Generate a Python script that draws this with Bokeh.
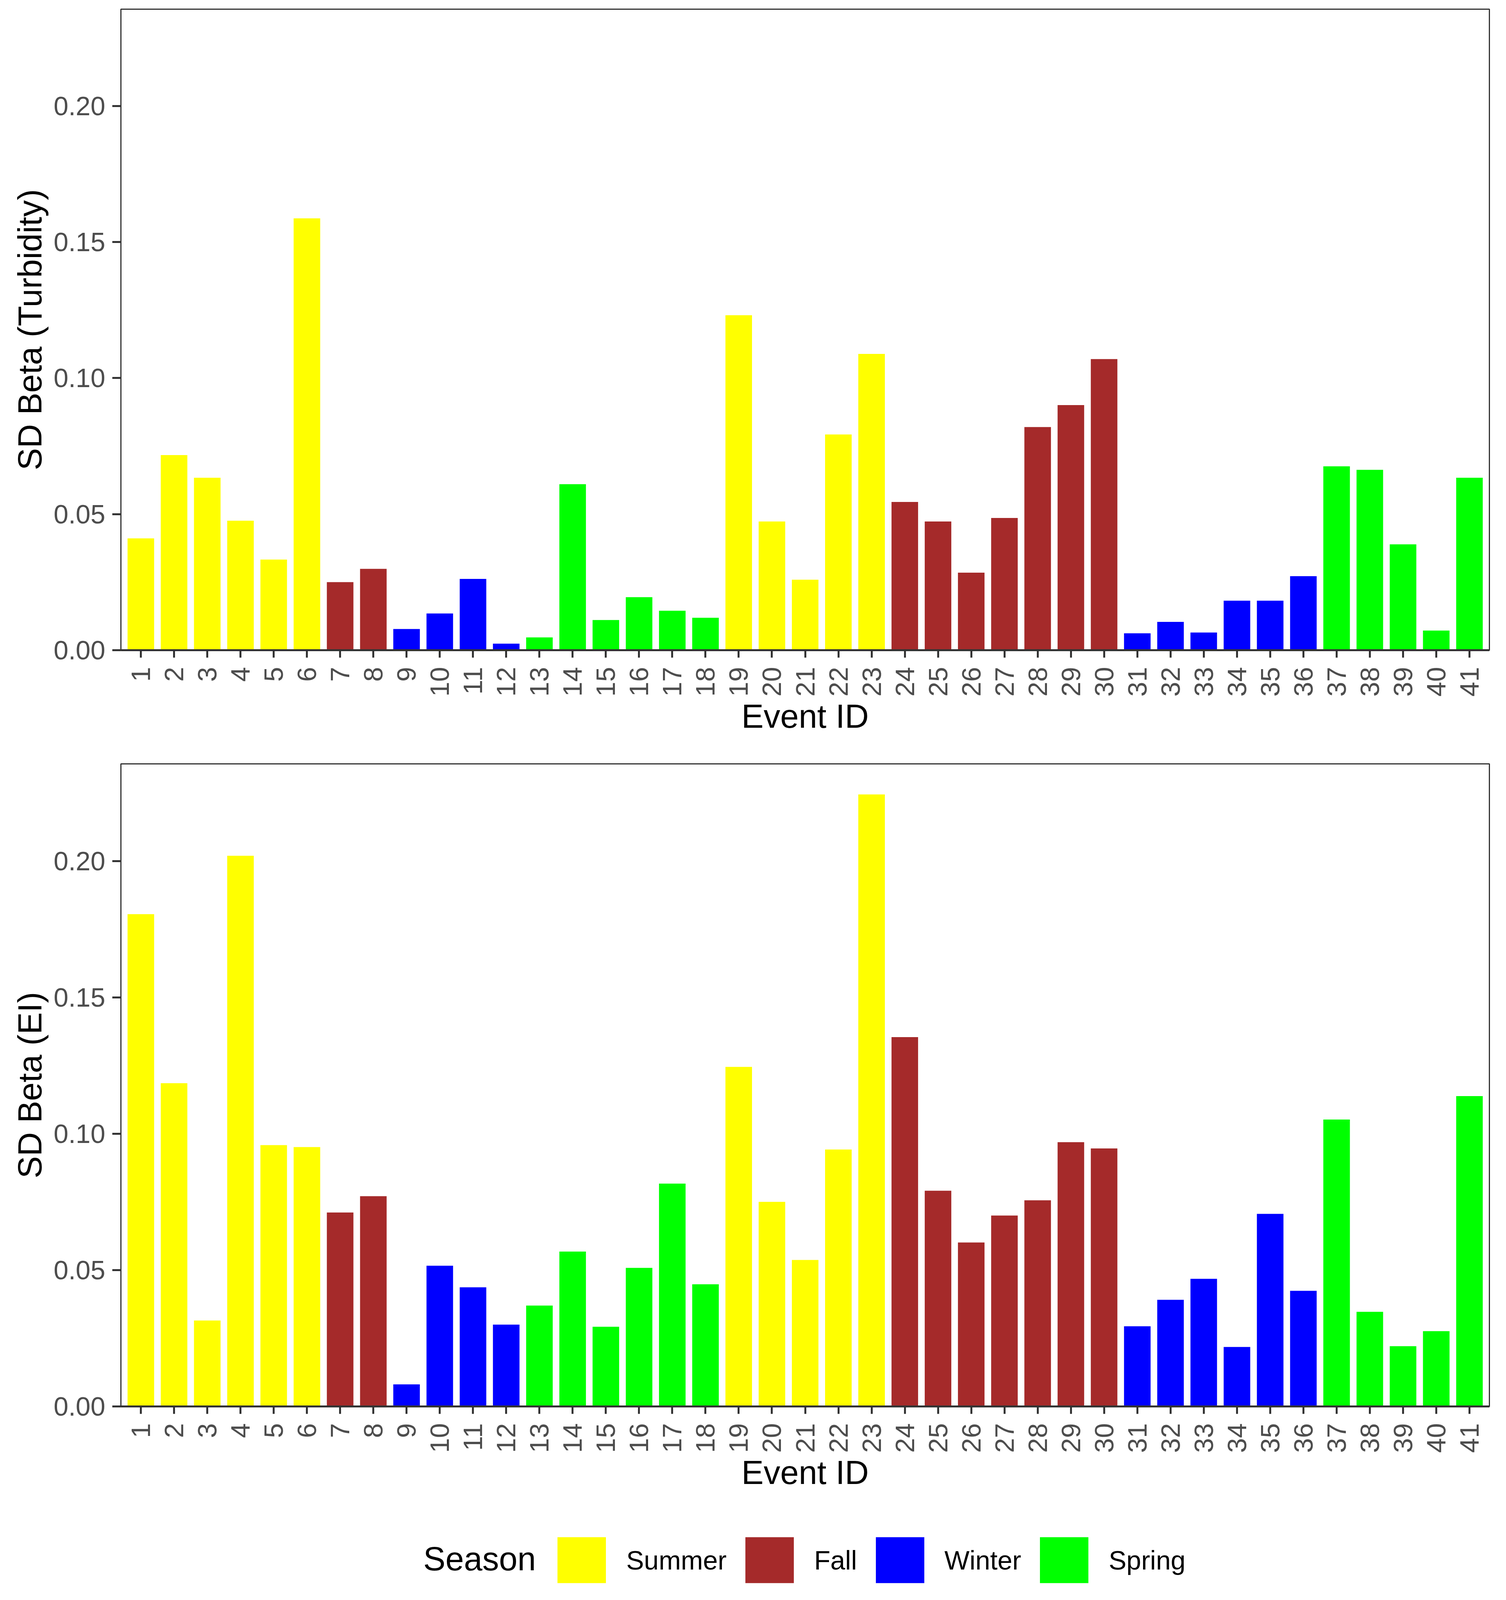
import math
from bokeh.plotting import figure
from bokeh.models import (Range1d, FixedTicker, NumeralTickFormatter, Legend,
                          LegendItem, ColumnDataSource, Label)
from bokeh.layouts import column
from bokeh.embed import file_html
from bokeh.resources import INLINE

# ---------------- data ----------------
event_ids = [1, 2, 3, 4, 5, 6, 7, 8, 9, 10, 11, 12, 13, 14, 15, 16, 17, 18, 19, 20,
             21, 22, 23, 24, 25, 26, 27, 28, 29, 30, 31, 32, 33, 34, 35, 36, 37, 38,
             39, 40, 41]

seasons = (["Summer"] * 6 + ["Fall"] * 2 + ["Winter"] * 4 + ["Spring"] * 6 +
           ["Summer"] * 5 + ["Fall"] * 7 + ["Winter"] * 6 + ["Spring"] * 5)

sd_beta_turbidity = [0.0411, 0.0717, 0.0634, 0.0476, 0.0333, 0.1587, 0.0250, 0.0299,
                     0.0078, 0.0135, 0.0262, 0.0024, 0.0047, 0.0610, 0.0111, 0.0195,
                     0.0145, 0.0119, 0.1231, 0.0473, 0.0259, 0.0793, 0.1089, 0.0545,
                     0.0473, 0.0285, 0.0486, 0.0820, 0.0901, 0.1070, 0.0062, 0.0104,
                     0.0065, 0.0182, 0.0182, 0.0272, 0.0676, 0.0663, 0.0389, 0.0072,
                     0.0634]

sd_beta_ei = [0.1805, 0.1185, 0.0315, 0.2019, 0.0958, 0.0951, 0.0711, 0.0771, 0.0081,
              0.0516, 0.0437, 0.0300, 0.0370, 0.0568, 0.0292, 0.0508, 0.0817, 0.0448,
              0.1245, 0.0750, 0.0537, 0.0942, 0.2244, 0.1354, 0.0791, 0.0601, 0.0700,
              0.0756, 0.0969, 0.0946, 0.0294, 0.0391, 0.0468, 0.0218, 0.0706, 0.0424,
              0.1052, 0.0347, 0.0221, 0.0276, 0.1138]

season_order = ["Summer", "Fall", "Winter", "Spring"]
season_colors = {"Summer": "#FFFF00", "Fall": "#A52A2A", "Winter": "#0000FF", "Spring": "#00FF00"}

y_ticks = [0.0, 0.05, 0.10, 0.15, 0.20]

FONT = "Liberation Sans"
W = 3839          # page is 3855 wide with 8px margins
LEFT = 309        # frame left edge (all plots in the column share it)
TICK_FS = "68px"
TITLE_FS = "85px"


def make_panel(values, ylabel, height, border_top, border_bottom):
    p = figure(width=W, height=height, output_backend="svg", toolbar_location=None,
               x_range=Range1d(0.4, 41.6), y_range=Range1d(0, 0.2356),
               min_border_left=LEFT, min_border_right=27,
               min_border_top=border_top, min_border_bottom=border_bottom)
    p.grid.visible = False
    p.background_fill_color = "white"
    p.border_fill_color = "white"
    p.outline_line_color = "#333333"
    p.outline_line_width = 3

    srcs = {}
    for s in season_order:
        idx = [i for i, ss in enumerate(seasons) if ss == s]
        srcs[s] = ColumnDataSource(dict(x=[event_ids[i] for i in idx],
                                        top=[values[i] for i in idx]))
        p.vbar(x="x", top="top", width=0.8, source=srcs[s],
               fill_color=season_colors[s], line_color=None)

    ya = p.yaxis[0]
    ya.ticker = FixedTicker(ticks=y_ticks, minor_ticks=[])
    ya.formatter = NumeralTickFormatter(format="0.00")
    ya.axis_label = ylabel
    ya.axis_line_color = "#333333"
    ya.axis_line_width = 3
    ya.major_tick_line_color = "#333333"
    ya.major_tick_line_width = 5
    ya.major_tick_out = 22
    ya.major_tick_in = 0
    ya.minor_tick_line_color = None
    ya.major_label_text_font = FONT
    ya.major_label_text_font_size = TICK_FS
    ya.major_label_text_color = "#4D4D4D"
    ya.major_label_standoff = 18
    ya.axis_label_text_font = FONT
    ya.axis_label_text_font_size = TITLE_FS
    ya.axis_label_text_font_style = "normal"
    ya.axis_label_text_color = "black"
    ya.axis_label_standoff = 10

    xa = p.xaxis[0]
    xa.ticker = FixedTicker(ticks=event_ids, minor_ticks=[])
    xa.axis_label = "Event ID"
    xa.axis_line_color = "#333333"
    xa.axis_line_width = 5
    xa.major_tick_line_color = "#333333"
    xa.major_tick_line_width = 5
    xa.major_tick_out = 19
    xa.major_tick_in = 0
    xa.minor_tick_line_color = None
    xa.major_label_orientation = math.pi / 2
    xa.major_label_text_font = FONT
    xa.major_label_text_font_size = TICK_FS
    xa.major_label_text_color = "#4D4D4D"
    xa.major_label_standoff = 24
    xa.axis_label_text_font = FONT
    xa.axis_label_text_font_size = TITLE_FS
    xa.axis_label_text_font_style = "normal"
    xa.axis_label_text_color = "black"
    xa.axis_label_standoff = 0
    return p, srcs


# the browser viewport is 4096 tall: total content 4080
p1, s1 = make_panel(sd_beta_turbidity, "SD Beta (Turbidity)", 1900, 23, 236)
p2, s2 = make_panel(sd_beta_ei, "SD Beta (EI)", 1920, 55, 220)

# legend strip: its own small figure; the key renderers reuse the season data but
# the strip's ranges keep them out of view, so only the legend is shown
LH = 260
p3 = figure(width=W, height=LH, output_backend="svg", toolbar_location=None,
            x_range=Range1d(0.4, 41.6), y_range=Range1d(1, 2),
            x_axis_location=None, y_axis_location=None,
            min_border_left=LEFT, min_border_right=27, min_border_top=0, min_border_bottom=0)
p3.grid.visible = False
p3.outline_line_color = None
p3.background_fill_color = "white"
p3.border_fill_color = "white"

key_renderers = {}
for s in season_order:
    key_renderers[s] = p3.vbar(x="x", top="top", width=0.8, source=s2[s],
                               fill_color=season_colors[s], line_color=None)

legend = Legend(items=[LegendItem(label=s, renderers=[key_renderers[s]]) for s in season_order],
                orientation="horizontal", location=(1411 - LEFT, 13),
                glyph_width=155, glyph_height=147, label_height=147,
                label_standoff=37, spacing=32, padding=0, margin=0,
                border_line_color=None, background_fill_alpha=0,
                label_text_font=FONT, label_text_font_size=TICK_FS,
                label_text_color="black")
p3.add_layout(legend)

legend_title = Label(x=1083 - LEFT, y=90, x_units="screen", y_units="screen",
                     text="Season", text_font=FONT, text_font_size=TITLE_FS,
                     text_color="black", text_align="left", text_baseline="middle")
p3.add_layout(legend_title)

layout = column(p1, p2, p3, spacing=0)
open("out.html", "w").write(file_html(layout, INLINE))
